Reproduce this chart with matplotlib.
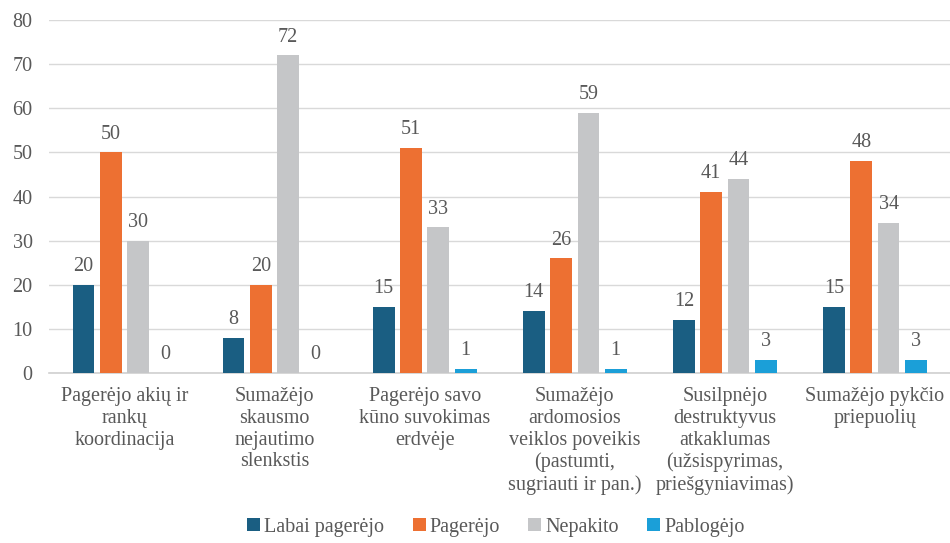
import matplotlib.pyplot as plt
import numpy as np

categories = [
    "Pagerėjo akių ir\nrankų\nkoordinacija",
    "Sumažėjo\nskausmo\nnejautimo\nslenkstis",
    "Pagerėjo savo\nkūno suvokimas\nerdvėje",
    "Sumažėjo\nardomosios\nveiklos poveikis\n(pastumti,\nsugriauti ir pan.)",
    "Susilpnėjo\ndestruktyvus\natkaklumas\n(užsispyrimas,\npriešgyniavimas)",
    "Sumažėjo pykčio\npriepuolių",
]
series_names = ["Labai pagerėjo", "Pagerėjo", "Nepakito", "Pablogėjo"]
labai_pagerejo = [20, 8, 15, 14, 12, 15]
pagerejo = [50, 20, 51, 26, 41, 48]
nepakito = [30, 72, 33, 59, 44, 34]
pablogejo = [0, 0, 1, 1, 3, 3]
colors = ["#1A5E82", "#ED7032", "#C5C6C8", "#1B9FD8"]

plt.rcParams['font.family'] = 'serif'
plt.rcParams['font.serif'] = ['Liberation Serif', 'DejaVu Serif']
text_color = "#595959"
fs = 14.5

fig = plt.figure(figsize=(9.5, 5.43), dpi=100)
ax = fig.add_axes([0.052, 0.313, 0.948, 0.65])

x = np.arange(len(categories))
width = 0.145
pitch = 0.182
all_values = [labai_pagerejo, pagerejo, nepakito, pablogejo]
for i, (name, vals) in enumerate(zip(series_names, all_values)):
    pos = x + (i - 1.5) * pitch
    bars = ax.bar(pos, vals, width, color=colors[i], label=name, zorder=3)
    for b, v in zip(bars, vals):
        ax.text(b.get_x() + b.get_width() / 2, v + 2.0, str(v),
                ha='center', va='bottom', fontsize=fs, color=text_color)

ax.set_xlim(-0.5, len(categories) - 0.5)
ax.set_ylim(0, 80)
ax.set_yticks(range(0, 81, 10))
ax.grid(axis='y', color='#D9D9D9', linewidth=1, zorder=0)
for s in ['top', 'right', 'left']:
    ax.spines[s].set_visible(False)
ax.spines['bottom'].set_color('#D0D0D0')
ax.spines['bottom'].set_linewidth(1.2)
ax.tick_params(axis='both', length=0, labelsize=fs, colors=text_color)
ax.tick_params(axis='y', pad=12)
ax.set_xticks(x)
ax.set_xticklabels(categories, linespacing=1.2, va='top')
ax.tick_params(axis='x', pad=10)

leg = fig.legend(loc='lower center', bbox_to_anchor=(0.522, -0.022), ncol=4,
                 frameon=False, fontsize=fs, handlelength=0.65, handleheight=0.65,
                 handletextpad=0.2, columnspacing=1.4)
for t in leg.get_texts():
    t.set_color(text_color)

plt.savefig("out.png", dpi=100)
